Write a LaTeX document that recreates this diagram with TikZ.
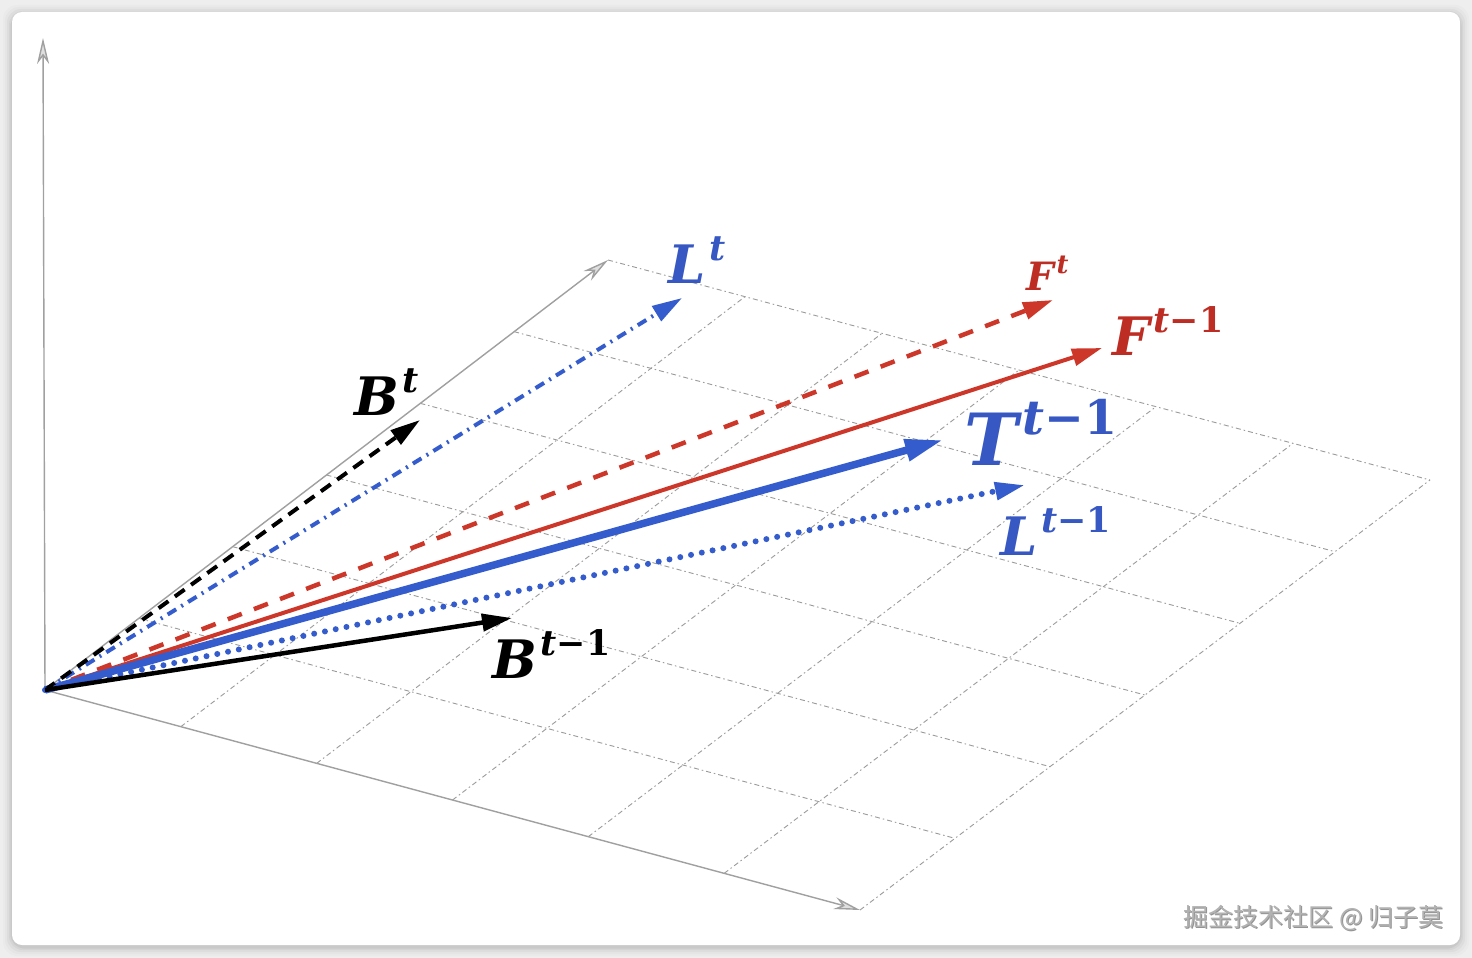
\documentclass[tikz,border=0pt]{standalone}
\usepackage{fontspec}
\newfontfamily\cjk{Noto Sans CJK SC}
\newfontfamily\labf{DejaVu Serif}
\usetikzlibrary{arrows.meta,calc}
\definecolor{bgc}{RGB}{238,238,238}
\definecolor{blueV}{RGB}{52,92,205}
\definecolor{blueL}{RGB}{55,88,195}
\definecolor{redV}{RGB}{205,55,42}
\definecolor{redL}{RGB}{190,45,35}
\definecolor{axisc}{RGB}{160,160,160}
\definecolor{gridc}{RGB}{155,155,155}
\newcommand\vlabel[2]{{\labf\bfseries\itshape #1}\kern0.07em\raisebox{0.43em}{\scalebox{0.66}{\labf\bfseries\itshape t\upshape #2}}}
\begin{document}
\begin{tikzpicture}[x=1pt,y=-1pt,
  lab/.style={inner sep=0pt, anchor=base west},
  gridline/.style={draw=gridc, line width=0.9pt, dash pattern=on 5pt off 3pt on 1.5pt off 3pt},
  axisline/.style={draw=axisc, line width=1.4pt, -{Stealth[length=26pt,width=12pt,inset=8pt,fill=gray!25,color=axisc]}},
  tipA/.style={-{Triangle[length=30pt,width=17pt]}},
  tipB/.style={-{Triangle[length=38pt,width=21pt]}},
  vdash/.style={line width=4pt, dash pattern=on 12pt off 8pt},
  vdashred/.style={line width=4.5pt, dash pattern=on 15pt off 13pt},
  vdashdot/.style={line width=4pt, dash pattern=on 10pt off 6pt on 2pt off 6pt},
  vdot/.style={line width=6pt, line cap=round, dash pattern=on 0pt off 11pt},
  bigl/.style={font=\fontsize{53}{60}\selectfont},
  midl/.style={font=\fontsize{39}{46}\selectfont},
  hugel/.style={font=\fontsize{72}{80}\selectfont}]
\useasboundingbox (0,0) rectangle (1472,958);
\fill[bgc] (0,0) rectangle (1472,958);
\foreach \k/\o in {9/0.015,7/0.02,5/0.03,3/0.04,1.5/0.05}
  \fill[black,opacity=\o,rounded corners=14pt] (12-\k,12-\k+2) rectangle (1460+\k,945+\k+2);
\fill[white,rounded corners=10pt] (12,12) rectangle (1460,945);

% frame of the plane
\coordinate (O) at (45,690);
\coordinate (A) at (608,260);
\coordinate (D) at (860,910);
\coordinate (C) at (1430,480);
\coordinate (Z) at (43,38);

\foreach \i in {1,...,6}
  \draw[gridline] ($(O)!\i/6!(D)$) -- ($(A)!\i/6!(C)$);
\foreach \j in {1,...,6}
  \draw[gridline] ($(O)!\j/6!(A)$) -- ($(D)!\j/6!(C)$);

\draw[axisline] (O) -- (Z);
\draw[axisline] (O) -- (A);
\draw[axisline] (O) -- (D);

% vector tips
\coordinate (bt) at (420,420);
\coordinate (lt) at (682,298);
\coordinate (ft) at (1053,300);
\coordinate (ft1) at (1102,348);
\coordinate (tt1) at (943,440);
\coordinate (lt1) at (1025,485);
\coordinate (bt1) at (512,618);

\draw[redV, vdashred, tipA] (O) -- (ft);
\draw[redV, line width=4pt, tipA] (O) -- (ft1);
\draw[blueV, line width=7.5pt, tipB] (O) -- (tt1);
\draw[blueV, vdashdot, tipA] (O) -- (lt);
\draw[black, vdash, tipA] (O) -- (bt);
\draw[blueV, vdot, tipA] (O) -- (lt1);
\draw[black, line width=4.5pt, tipA] (O) -- (bt1);

% labels
\node[lab, bigl, text=black] (lbt) at (354,415) {\vlabel{B}{}};
\node[lab, bigl, text=blueL] (llt) at (668,283) {\vlabel{L}{}};
\node[lab, midl, text=redL] (lft) at (1026,290) {\vlabel{F}{}};
\node[lab, bigl, text=redL] (lft1) at (1112,355) {\vlabel{F}{−1}};
\node[lab, hugel, text=blueL] (ltt1) at (964,465) {\vlabel{T}{−1}};
\node[lab, bigl, text=blueL] (llt1) at (1000,555) {\vlabel{L}{−1}};
\node[lab, bigl, text=black] (lbt1) at (492,678) {\vlabel{B}{−1}};

% watermark
\node[font=\cjk\fontsize{25}{30}\selectfont, text=black!70, anchor=east, opacity=0.6] (wms) at (1447.8,918.8) {掘金技术社区 @ 归子莫};
\node[font=\cjk\fontsize{25}{30}\selectfont, text=gray!60, anchor=east] (wm) at (1447,918) {掘金技术社区 @ 归子莫};
\end{tikzpicture}
\end{document}
